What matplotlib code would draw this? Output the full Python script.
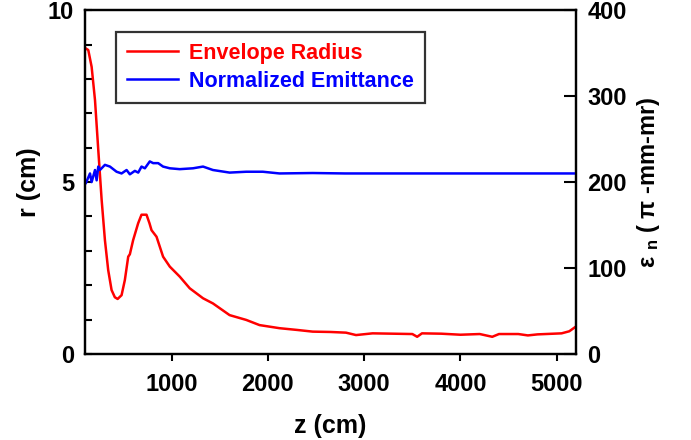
import matplotlib
matplotlib.use("Agg")
import matplotlib.pyplot as plt
from matplotlib.ticker import MultipleLocator

plt.rcParams['font.family'] = ['Liberation Sans', 'DejaVu Sans']
plt.rcParams['font.weight'] = 'bold'
plt.rcParams['mathtext.default'] = 'regular'

# Envelope radius (cm) vs z (cm)
z_r = [100, 134, 169, 204, 238, 273, 307, 341, 376, 410, 439, 480, 514, 549, 566, 600,
       652, 687, 739, 770, 791, 843, 911, 981, 1084, 1188, 1326, 1429, 1602, 1775,
       1913, 2120, 2300, 2465, 2650, 2811, 2915, 3087, 3300, 3500, 3550, 3600, 3800,
       4000, 4200, 4330, 4400, 4600, 4700, 4800, 5050, 5130, 5200]
r_env = [8.9, 8.84, 8.35, 7.38, 5.93, 4.48, 3.31, 2.44, 1.86, 1.65, 1.6, 1.71, 2.15,
         2.83, 2.9, 3.31, 3.8, 4.05, 4.05, 3.8, 3.6, 3.41, 2.83, 2.54, 2.25, 1.91,
         1.62, 1.47, 1.13, 0.99, 0.84, 0.75, 0.7, 0.65, 0.64, 0.62, 0.55, 0.6, 0.59,
         0.58, 0.5, 0.6, 0.59, 0.56, 0.58, 0.5, 0.58, 0.58, 0.54, 0.57, 0.6, 0.66, 0.8]

# Normalized emittance (pi-mm-mr) vs z (cm)
z_e = [110, 152, 169, 204, 221, 238, 255, 307, 359, 428, 480, 532, 566, 618, 653, 687,
       722, 773, 808, 860, 911, 981, 1084, 1222, 1326, 1429, 1602, 1775, 1947, 2120,
       2465, 2800, 3200, 3600, 4000, 4500, 5200]
emit = [199, 210, 200, 214, 202, 218, 214, 220, 218, 212, 210, 214, 209, 213, 211, 218,
        216, 224, 222, 222, 218, 216, 215, 216, 218, 214, 211, 212, 212, 210, 210.5,
        210, 210, 210, 210, 210, 210]

x_ticks = [1000, 2000, 3000, 4000, 5000]

fig = plt.figure(figsize=(6.91, 4.40), dpi=100)
ax = fig.add_axes([0.123, 0.1955, 0.7106, 0.7815])
ax2 = ax.twinx()

l1, = ax.plot(z_r, r_env, color='#ff0000', lw=1.8, label='Envelope Radius')
l2, = ax2.plot(z_e, emit, color='#0000ff', lw=1.8, label='Normalized Emittance')

ax.set_xlim(100, 5200)
ax.set_ylim(0, 10)
ax2.set_ylim(0, 400)
ax.set_xticks(x_ticks)
ax.set_yticks([0, 5, 10])
ax.yaxis.set_minor_locator(MultipleLocator(1))
ax2.set_yticks([0, 100, 200, 300, 400])

for a in (ax, ax2):
    for s in a.spines.values():
        s.set_linewidth(1.6)

ax.tick_params(axis='x', direction='out', length=5, width=1.5, labelsize=17, pad=9)
ax.tick_params(axis='y', which='both', direction='in', length=5, width=1.5, labelsize=17, pad=8)
ax2.tick_params(axis='y', direction='in', length=9, width=1.5, labelsize=17, pad=8)

ax.set_xlabel('z (cm)', fontsize=18, fontweight='bold', labelpad=13)
ax.set_ylabel('r (cm)', fontsize=18, fontweight='bold', labelpad=5)
ax2.set_ylabel('ε $_{n}$ ( π -mm-mr)', fontsize=17, fontweight='bold', labelpad=6)

leg = ax.legend(handles=[l1, l2], loc='upper left', bbox_to_anchor=(0.063, 0.936),
                fontsize=15.5, frameon=True, fancybox=False, handlelength=2.4,
                borderpad=0.5, labelspacing=0.32, handletextpad=0.5, borderaxespad=0)
leg.get_frame().set_edgecolor('black')
leg.get_frame().set_linewidth(1.6)
for t, c in zip(leg.get_texts(), ['#ff0000', '#0000ff']):
    t.set_color(c)
    t.set_fontweight('bold')

fig.savefig('out.png', dpi=100)
